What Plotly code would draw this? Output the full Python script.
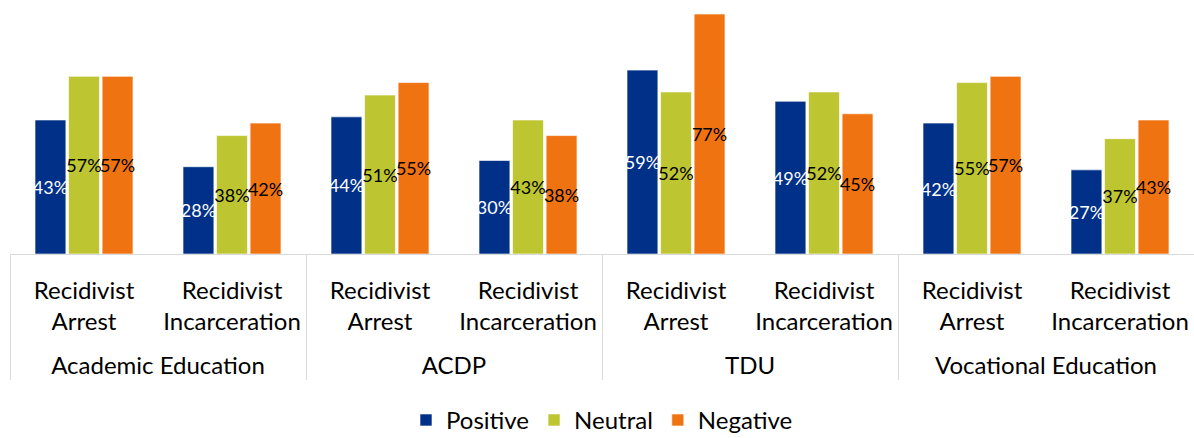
import plotly.graph_objects as go

groups = ["Academic Education", "Academic Education", "ACDP", "ACDP",
          "TDU", "TDU", "Vocational Education", "Vocational Education"]
subcat_names = ["Recidivist<br>Arrest", "Recidivist<br>Incarceration"] * 4

positive = [43, 28, 44, 30, 59, 49, 42, 27]
neutral = [57, 38, 51, 43, 52, 52, 55, 37]
negative = [57, 42, 55, 38, 77, 45, 57, 43]

# small white trailing glyph adds spacing between the two label levels
spacer = "<br><span style='font-size:8px;color:#FFFFFF'>.</span>"
subcats = [s + spacer for s in subcat_names]

series = [
    ("Positive", positive, "#003087", "white"),
    ("Neutral", neutral, "#BDC531", "black"),
    ("Negative", negative, "#F07312", "black"),
]

fig = go.Figure()
for name, vals, color, tcolor in series:
    fig.add_trace(go.Bar(
        name=name,
        x=[groups, subcats],
        y=vals,
        marker=dict(color=color, line=dict(color="rgba(255,255,255,0.6)", width=1)),
        text=[f"{v}%" for v in vals],
        textposition="inside",
        insidetextanchor="middle",
        textangle=0,
        constraintext="none",
        textfont=dict(family="Lato", size=18, color=tcolor),
        cliponaxis=False,
    ))

fig.update_layout(
    width=1194, height=438,
    margin=dict(l=10, r=0, t=0, b=184, autoexpand=False),
    paper_bgcolor="white", plot_bgcolor="white",
    barmode="group", bargap=0.32, bargroupgap=0.08,
    font=dict(family="Lato", size=24, color="#000000"),
    showlegend=True,
    legend=dict(orientation="h", x=0.5, xanchor="center",
                y=-0.655, yanchor="middle",
                font=dict(family="Lato", size=24, color="#000000"),
                itemwidth=30, tracegroupgap=0),
    xaxis=dict(type="multicategory", showline=True, linecolor="#D9D9D9", linewidth=1,
               showdividers=True, dividercolor="#D9D9D9", dividerwidth=1,
               tickfont=dict(family="Lato", size=24, color="#000000"),
               ticklabelstandoff=15, automargin=False,
               showgrid=False, ticks=""),
    yaxis=dict(range=[0, 81.5], visible=False, showgrid=False, zeroline=False),
)

fig.write_html("out.html")
